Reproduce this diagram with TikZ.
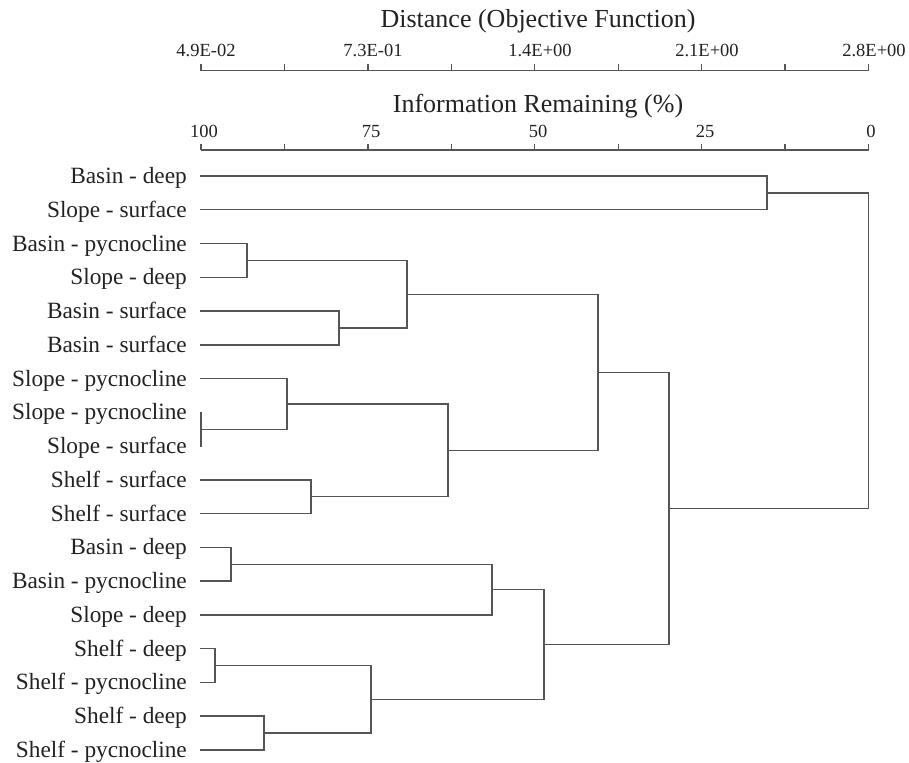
\documentclass[tikz,border=0pt]{standalone}
\usepackage{fontspec}
\setmainfont{Liberation Serif}
\definecolor{linec}{HTML}{555555}
\definecolor{textc}{HTML}{222222}
\tikzset{
  link/.style={draw=linec, line width=1.4pt, line cap=rect},
  axisline/.style={draw=linec, line width=1.4pt},
  leaf/.style={anchor=base east, inner sep=0pt, text=textc, font=\fontsize{23.3}{28}\selectfont},
  ticklab/.style={anchor=base, inner sep=0pt, text=textc, font=\fontsize{18.5}{22}\selectfont},
  axtitle/.style={anchor=base, inner sep=0pt, text=textc, font=\fontsize{26}{31}\selectfont}
}
\begin{document}
\begin{tikzpicture}[x=1pt, y=-1pt]
\useasboundingbox (0,0) rectangle (909,762);
% axis 1
\node[axtitle] (t1) at (538,28) {Distance (Objective Function)};
\draw[axisline] (201,70.7) coordinate (a1s) -- (868.5,70.7) coordinate (a1e);
\foreach \i in {0,...,8} {
  \draw[axisline] ({201+\i*83.44},70.7) -- ({201+\i*83.44},64.5);
}
\node[ticklab] (d0) at (206,57) {4.9E-02};
\node[ticklab] (d1) at (373,57) {7.3E-01};
\node[ticklab] (d2) at (540,57) {1.4E+00};
\node[ticklab] (d3) at (707,57) {2.1E+00};
\node[ticklab] (d4) at (874,57) {2.8E+00};
% axis 2
\node[axtitle] (t2) at (538,113) {Information Remaining (\%)};
\draw[axisline] (201,150) coordinate (a2s) -- (868.5,150) coordinate (a2e);
\foreach \i in {0,...,8} {
  \draw[axisline] ({201+\i*83.44},150) -- ({201+\i*83.44},143.8);
}
\node[ticklab] (p0) at (204,138) {100};
\node[ticklab] (p1) at (371,138) {75};
\node[ticklab] (p2) at (538,138) {50};
\node[ticklab] (p3) at (705,138) {25};
\node[ticklab] (p4) at (871,138) {0};
% leaves
\foreach \n/\lab [count=\i] in {
  L1/Basin - deep, L2/Slope - surface, L3/Basin - pycnocline, L4/Slope - deep,
  L5/Basin - surface, L6/Basin - surface, L7/Slope - pycnocline, L8/Slope - pycnocline,
  L9/Slope - surface, L10/Shelf - surface, L11/Shelf - surface, L12/Basin - deep,
  L13/Basin - pycnocline, L14/Slope - deep, L15/Shelf - deep, L16/Shelf - pycnocline,
  L17/Shelf - deep, L18/Shelf - pycnocline} {
  \pgfmathsetmacro{\yy}{176+(\i-1)*33.76}
  \node[leaf] (\n) at (187,\yy+7.5) {\lab};
  \coordinate (P\i) at (201,\yy);
}
% merge points
\coordinate (M1) at (767,192.9);
\coordinate (M2) at (247,260.4);
\coordinate (M3) at (339,327.9);
\coordinate (M4) at (407,294.2);
\coordinate (M5) at (201,429.2);
\coordinate (M6) at (287,403.9);
\coordinate (M7) at (311,496.7);
\coordinate (M8) at (448,450.3);
\coordinate (M9) at (598,372.2);
\coordinate (M10) at (231,564.2);
\coordinate (M11) at (492,589.6);
\coordinate (M12) at (215,665.5);
\coordinate (M13) at (264,733.0);
\coordinate (M14) at (371,699.3);
\coordinate (M15) at (544,644.4);
\coordinate (M16) at (669,508.3);
\coordinate (R) at (868.5,350.6);
% connectors
\draw[link] (P1) -| (M1) |- (P2);
\draw[link] (P3) -| (M2) |- (P4);
\draw[link] (P5) -| (M3) |- (P6);
\draw[link] (M2) -| (M4) |- (M3);
\draw[link] (P8) -- (P9);
\draw[link] (P7) -| (M6) |- (M5);
\draw[link] (P10) -| (M7) |- (P11);
\draw[link] (M6) -| (M8) |- (M7);
\draw[link] (M4) -| (M9) |- (M8);
\draw[link] (P12) -| (M10) |- (P13);
\draw[link] (M10) -| (M11) |- (P14);
\draw[link] (P15) -| (M12) |- (P16);
\draw[link] (P17) -| (M13) |- (P18);
\draw[link] (M12) -| (M14) |- (M13);
\draw[link] (M11) -| (M15) |- (M14);
\draw[link] (M9) -| (M16) |- (M15);
\draw[link] (M1) -| (R) |- (M16);
\end{tikzpicture}
\end{document}
